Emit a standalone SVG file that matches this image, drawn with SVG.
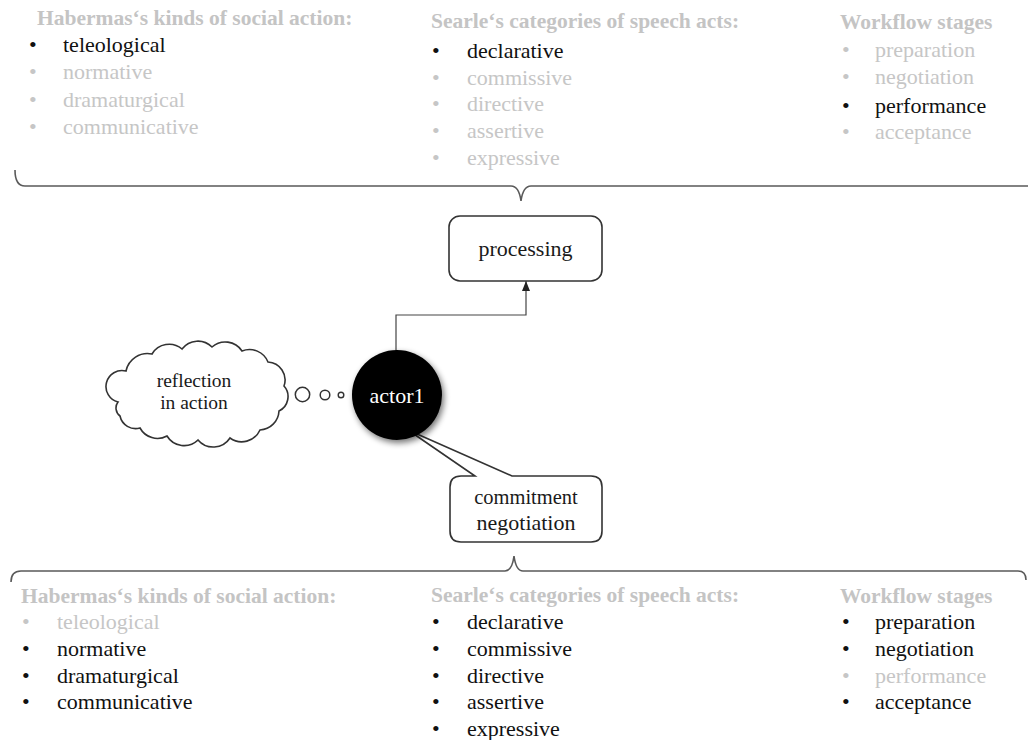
<svg xmlns="http://www.w3.org/2000/svg" width="1028" height="740" viewBox="0 0 1028 740" font-family="'Times New Roman', 'Liberation Serif', serif">
  <style>
    text { font-family: 'Times New Roman', 'Liberation Serif', 'DejaVu Serif', serif; font-size: 22px; }
    .hd { font-weight: bold; fill: #c4c4c4; font-size: 21.5px; }
    .on { fill: #111111; }
    .off { fill: #c6c6c6; }
    .brace { fill: none; stroke: #5a5a5a; stroke-width: 1.6; }
    .box { fill: #ffffff; stroke: #333333; stroke-width: 1.6; }
    .link { fill: none; stroke: #444444; stroke-width: 1.2; }
    .lbl { fill: #1a1a1a; text-anchor: middle; }
  </style>
  <defs>
    <marker id="arrowhead" markerWidth="10" markerHeight="10" refX="10" refY="5" orient="auto" markerUnits="userSpaceOnUse" viewBox="0 0 10 10">
      <path d="M0,1 L10,5 L0,9 Z" fill="#222222"/>
    </marker>
    <filter id="softShadow" x="-30%" y="-30%" width="160%" height="160%">
      <feGaussianBlur in="SourceAlpha" stdDeviation="3"/>
      <feOffset dx="2" dy="3" result="blur"/>
      <feComponentTransfer><feFuncA type="linear" slope="0.55"/></feComponentTransfer>
      <feMerge><feMergeNode/><feMergeNode in="SourceGraphic"/></feMerge>
    </filter>
  </defs>

  <!-- upper classification lists -->
  <g id="upper-lists">
    <text class="hd" x="37" y="25">Habermas‘s kinds of social action:</text>
    <text class="on" x="29" y="52">•</text><text class="on" x="63" y="52">teleological</text>
    <text class="off" x="29" y="79">•</text><text class="off" x="63" y="79">normative</text>
    <text class="off" x="29" y="107">•</text><text class="off" x="63" y="107">dramaturgical</text>
    <text class="off" x="29" y="134">•</text><text class="off" x="63" y="134">communicative</text>

    <text class="hd" x="431" y="28">Searle‘s categories of speech acts:</text>
    <text class="on" x="432" y="58">•</text><text class="on" x="467" y="58">declarative</text>
    <text class="off" x="432" y="85">•</text><text class="off" x="467" y="85">commissive</text>
    <text class="off" x="432" y="111">•</text><text class="off" x="467" y="111">directive</text>
    <text class="off" x="432" y="138">•</text><text class="off" x="467" y="138">assertive</text>
    <text class="off" x="432" y="165">•</text><text class="off" x="467" y="165">expressive</text>

    <text class="hd" x="840" y="29">Workflow stages</text>
    <text class="off" x="842" y="57">•</text><text class="off" x="875" y="57">preparation</text>
    <text class="off" x="842" y="84">•</text><text class="off" x="875" y="84">negotiation</text>
    <text class="on" x="842" y="113">•</text><text class="on" x="875" y="113">performance</text>
    <text class="off" x="842" y="139">•</text><text class="off" x="875" y="139">acceptance</text>
  </g>

  <!-- braces -->
  <g id="braces">
    <path class="brace" d="M15,170 Q15,186 25,186 L511,186 Q519,186 521,201 Q523,186 531,186 L1030,186"/>
    <path class="brace" d="M11,582 Q11,571 21,571 L505,571 Q512,571 514,556 Q516,571 523,571 L1018,571 Q1026,571 1026,580"/>
  </g>

  <!-- connectors -->
  <g id="connectors">
    <path class="link" d="M396,352 L396,315 L526,315 L526,281" marker-end="url(#arrowhead)"/>
    <circle cx="302.5" cy="394.5" r="7.2" fill="#ffffff" stroke="#333333" stroke-width="1.5"/>
    <circle cx="325" cy="395" r="4.8" fill="#ffffff" stroke="#333333" stroke-width="1.5"/>
    <circle cx="341" cy="395" r="2.8" fill="#ffffff" stroke="#333333" stroke-width="1.4"/>
  </g>

  <!-- processing node -->
  <g id="processing">
    <rect class="box" x="449" y="216" width="153" height="65" rx="11"/>
    <text class="lbl" x="525.5" y="256">processing</text>
  </g>

  <!-- thought cloud -->
  <g id="reflection">
    <path class="box" stroke-width="1.8" d="M118,402 A16,16 0 0 1 126,371 A22,22 0 0 1 152,354 A20,20 0 0 1 182,349 A20,20 0 0 1 212,347 A20,20 0 0 1 242,351 A20,20 0 0 1 268,362 A18,18 0 0 1 284,386 A16,16 0 0 1 279,411 A20,20 0 0 1 260,430 A20,20 0 0 1 230,438 A20,20 0 0 1 198,440 A20,20 0 0 1 167,436 A20,20 0 0 1 140,428 A16,16 0 0 1 120,416 A10,10 0 0 1 118,402 Z"/>
    <text class="lbl" x="194" y="387" style="font-size:19.5px">reflection</text>
    <text class="lbl" x="194" y="409" style="font-size:19.5px">in action</text>
  </g>

  <!-- commitment negotiation callout -->
  <g id="commitment">
    <path class="box" d="M461,476 L475,476 L408,430 L512,476 L591,476 Q602,476 602,487 L602,531 Q602,542 591,542 L461,542 Q450,542 450,531 L450,487 Q450,476 461,476 Z"/>
    <text class="lbl" x="526" y="504" style="font-size:20.5px">commitment</text>
    <text class="lbl" x="526" y="530">negotiation</text>
  </g>

  <!-- actor node -->
  <g id="actor1">
    <circle cx="397" cy="395" r="45" fill="#000000" filter="url(#softShadow)"/>
    <text x="397" y="403" text-anchor="middle" fill="#ffffff">actor1</text>
  </g>

  <!-- lower classification lists -->
  <g id="lower-lists">
    <text class="hd" x="21" y="603">Habermas‘s kinds of social action:</text>
    <text class="off" x="22" y="629">•</text><text class="off" x="57" y="629">teleological</text>
    <text class="on" x="22" y="656">•</text><text class="on" x="57" y="656">normative</text>
    <text class="on" x="22" y="683">•</text><text class="on" x="57" y="683">dramaturgical</text>
    <text class="on" x="22" y="709">•</text><text class="on" x="57" y="709">communicative</text>

    <text class="hd" x="431" y="602">Searle‘s categories of speech acts:</text>
    <text class="on" x="432" y="629">•</text><text class="on" x="467" y="629">declarative</text>
    <text class="on" x="432" y="656">•</text><text class="on" x="467" y="656">commissive</text>
    <text class="on" x="432" y="683">•</text><text class="on" x="467" y="683">directive</text>
    <text class="on" x="432" y="709">•</text><text class="on" x="467" y="709">assertive</text>
    <text class="on" x="432" y="736">•</text><text class="on" x="467" y="736">expressive</text>

    <text class="hd" x="840" y="603">Workflow stages</text>
    <text class="on" x="842" y="629">•</text><text class="on" x="875" y="629">preparation</text>
    <text class="on" x="842" y="656">•</text><text class="on" x="875" y="656">negotiation</text>
    <text class="off" x="842" y="683">•</text><text class="off" x="875" y="683">performance</text>
    <text class="on" x="842" y="709">•</text><text class="on" x="875" y="709">acceptance</text>
  </g>
</svg>
